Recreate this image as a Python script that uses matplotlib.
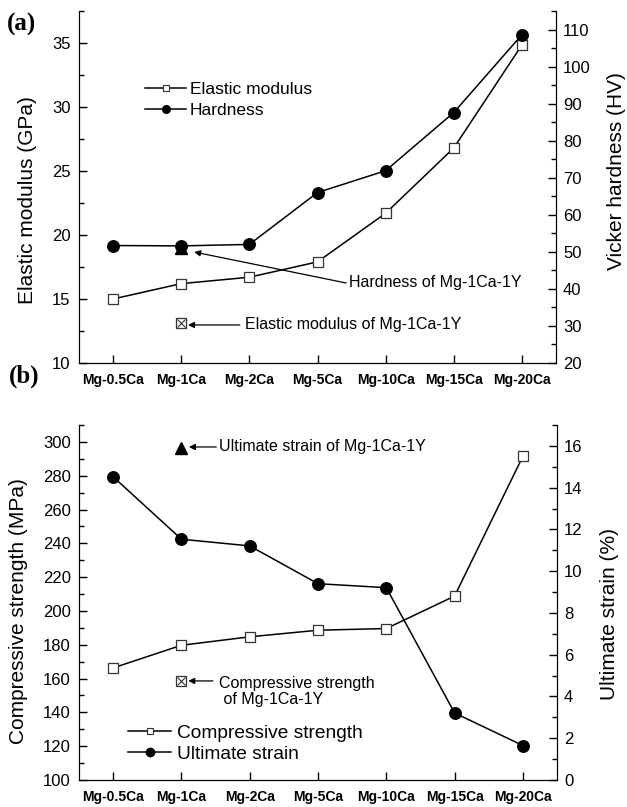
#! /usr/bin/env python3

import matplotlib
matplotlib.use("Agg")
from matplotlib import pyplot as plt
from matplotlib.lines import Line2D
from matplotlib.ticker import MultipleLocator

plt.rcParams['font.family'] = ['Liberation Sans', 'DejaVu Sans']

#============================================================
# Data
#============================================================

alloys = ['Mg-0.5Ca', 'Mg-1Ca', 'Mg-2Ca', 'Mg-5Ca', 'Mg-10Ca', 'Mg-15Ca', 'Mg-20Ca']

elastic_modulus = [15.0, 16.2, 16.7, 17.9, 21.7, 26.8, 34.85]     # GPa
hardness        = [51.7, 51.6, 52.0, 66.0, 71.9, 87.6, 108.6]     # HV

compressive     = [166.3, 179.7, 184.7, 188.6, 189.6, 208.8, 291.5]  # MPa
ult_strain      = [14.52, 11.53, 11.21, 9.40, 9.21, 3.21, 1.65]      # %

# Mg-1Ca-1Y reference values (drawn at the Mg-1Ca position)
ref_alloy       = 'Mg-1Ca'
ref_elastic     = 13.1
ref_hardness    = 51.0
ref_compressive = 158.8
ref_strain      = 15.9

x = list(range(len(alloys)))
xr = alloys.index(ref_alloy)

#============================================================
# Helpers
#============================================================

def style_axes(ax, ax2):
    for a in (ax, ax2):
        a.spines['top'].set_visible(False)
        a.tick_params(which='both', direction='in', top=False, labelsize=12)
        a.tick_params(which='major', length=5.5, width=1)
        a.tick_params(which='minor', length=3.5, width=1)
    ax.tick_params(axis='y', which='both', right=False, pad=6)
    ax2.tick_params(axis='y', which='both', left=False, pad=5)
    ax.tick_params(axis='x', which='both', bottom=True, length=5.5, pad=7)
    ax.set_xlim(-0.5, 6.5)
    ax.set_xticks(x)
    ax.set_xticklabels(alloys, fontsize=10, fontweight='bold')
    ax.xaxis.set_minor_locator(plt.NullLocator())

def arrow(ax, x0, y0, x1, y1):
    ax.annotate('', xy=(x1, y1), xytext=(x0, y0),
                arrowprops=dict(arrowstyle='-|>', color='black', lw=0.9,
                                mutation_scale=9, shrinkA=0, shrinkB=0))

fig = plt.figure(figsize=(6.27, 8.07), dpi=100)

#============================================================
# (a) Elastic modulus / hardness
#============================================================

ax = fig.add_axes([0.126, 0.5502, 0.7608, 0.4362])
ax2 = ax.twinx()
style_axes(ax, ax2)

ax.set_ylim(10, 37.5)
ax.yaxis.set_major_locator(MultipleLocator(5))
ax.yaxis.set_minor_locator(MultipleLocator(2.5))
ax2.set_ylim(20, 115)
ax2.yaxis.set_major_locator(MultipleLocator(10))
ax2.yaxis.set_minor_locator(MultipleLocator(5))

ax.plot(x, elastic_modulus, 'k-', lw=1.1, marker='s', ms=7.2,
        mfc='white', mec='#333333', mew=0.9, zorder=3)
ax.plot([xr], [ref_elastic], marker='s', ms=7.0, mfc='white', mec='#333333', mew=0.9, ls='none')
ax.plot([xr], [ref_elastic], marker='x', ms=6.0, mec='#333333', mew=0.8, ls='none')

ax2.plot([xr], [ref_hardness], marker='^', ms=9, color='black', ls='none')
ax2.plot(x, hardness, 'k-', lw=1.1, marker='o', ms=8.3, color='black', zorder=3)

ax.set_ylabel('Elastic modulus (GPa)', fontsize=15)
ax2.set_ylabel('Vicker hardness (HV)', fontsize=15)
ax.yaxis.label.set_va('center')
ax2.yaxis.label.set_va('center')
ax.yaxis.set_label_coords(-0.109, 0.463)
ax2.yaxis.set_label_coords(1.126, 0.545)

arrow(ax, 3.42, 16.25, 1.19, 18.67)
ax.text(3.46, 16.25, 'Hardness of Mg-1Ca-1Y', fontsize=11.5, ha='left', va='center')
arrow(ax, 1.86, 12.97, 1.10, 12.97)
ax.text(1.94, 12.97, 'Elastic modulus of Mg-1Ca-1Y', fontsize=11.5, ha='left', va='center')

handles = [Line2D([], [], color='black', lw=1.1, marker='s', ms=4.5, mfc='white', mec='#333333', mew=0.8),
           Line2D([], [], color='black', lw=1.1, marker='o', ms=5.5)]
ax.legend(handles, ['Elastic modulus', 'Hardness'], loc='center left',
          bbox_to_anchor=(0.138, 0.747), frameon=False, fontsize=12.5,
          borderpad=0, borderaxespad=0, handlelength=2.4, handletextpad=0.2,
          labelspacing=0.35)

fig.text(0.011, 0.970, '(a)', family=['Liberation Serif', 'DejaVu Serif'],
         fontweight='bold', fontsize=18, va='center')

#============================================================
# (b) Compressive strength / ultimate strain
#============================================================

bx = fig.add_axes([0.126, 0.03346, 0.7624, 0.4399])
bx2 = bx.twinx()
style_axes(bx, bx2)

bx.set_ylim(100, 310)
bx.yaxis.set_major_locator(MultipleLocator(20))
bx.yaxis.set_minor_locator(MultipleLocator(10))
bx2.set_ylim(0, 17)
bx2.yaxis.set_major_locator(MultipleLocator(2))
bx2.yaxis.set_minor_locator(MultipleLocator(1))

bx.plot(x, compressive, 'k-', lw=1.1, marker='s', ms=7.2,
        mfc='white', mec='#333333', mew=0.9, zorder=3)
bx.plot([xr], [ref_compressive], marker='s', ms=7.0, mfc='white', mec='#333333', mew=0.9, ls='none')
bx.plot([xr], [ref_compressive], marker='x', ms=6.0, mec='#333333', mew=0.8, ls='none')

bx2.plot(x, ult_strain, 'k-', lw=1.1, marker='o', ms=8.3, color='black', zorder=3)
bx2.plot([xr], [ref_strain], marker='^', ms=9, color='black', ls='none')

bx.set_ylabel('Compressive strength (MPa)', fontsize=15)
bx2.set_ylabel('Ultimate strain (%)', fontsize=15)
bx.yaxis.label.set_va('center')
bx2.yaxis.label.set_va('center')
bx.yaxis.set_label_coords(-0.126, 0.476)
bx2.yaxis.set_label_coords(1.109, 0.468)

arrow(bx, 1.51, 297, 1.11, 297)
bx.text(1.55, 297, 'Ultimate strain of Mg-1Ca-1Y', fontsize=11.5, ha='left', va='center')
arrow(bx, 1.46, 158.6, 1.10, 158.6)
bx.text(1.55, 152.4, 'Compressive strength\n of Mg-1Ca-1Y', fontsize=11.5,
        ha='left', va='center', linespacing=1.05)

handles = [Line2D([], [], color='black', lw=1.1, marker='s', ms=5, mfc='white', mec='#333333', mew=0.8),
           Line2D([], [], color='black', lw=1.1, marker='o', ms=6)]
bx.legend(handles, ['Compressive strength', 'Ultimate strain'], loc='center left',
          bbox_to_anchor=(0.1025, 0.103), frameon=False, fontsize=13.8,
          borderpad=0, borderaxespad=0, handlelength=2.25, handletextpad=0.3,
          labelspacing=0.2)

fig.text(0.014, 0.534, '(b)', family=['Liberation Serif', 'DejaVu Serif'],
         fontweight='bold', fontsize=18, va='center')

plt.savefig("out.png", dpi=100)
